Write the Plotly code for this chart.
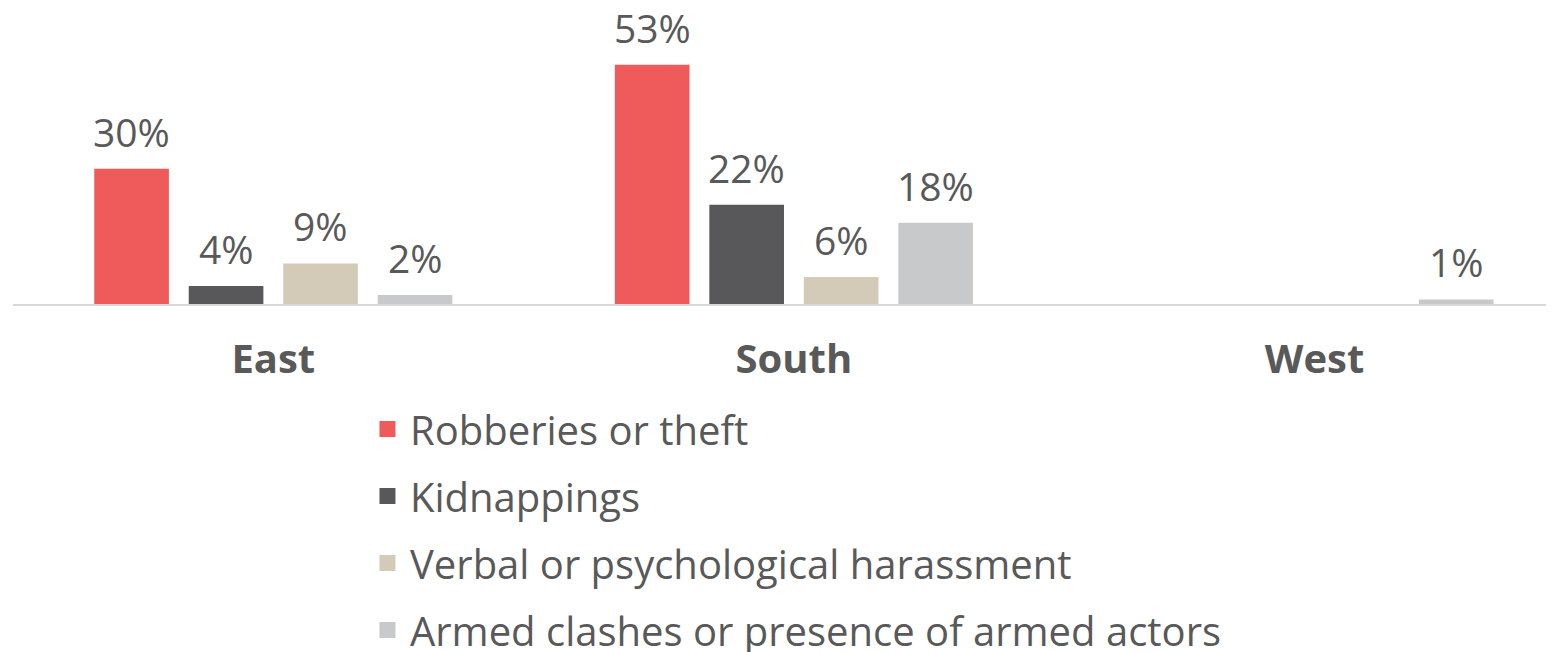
import plotly.graph_objects as go

regions = ["East", "South", "West"]
robberies = [30, 53, None]
kidnappings = [4, 22, None]
harassment = [9, 6, None]
armed = [2, 18, 1]

series = [
    ("Robberies or theft", robberies, "#EF5A5A"),
    ("Kidnappings", kidnappings, "#58585A"),
    ("Verbal or psychological harassment", harassment, "#D3CBB8"),
    ("Armed clashes or presence of armed actors", armed, "#C8C9CB"),
]

W, H = 1546, 644
ML = 5
x_range = [-0.5, 2.46]
bargap = 0.274
cat_px = (W - ML) / (x_range[1] - x_range[0])
slot_px = cat_px * (1 - bargap) / len(series)

fig = go.Figure()
annotations = []
for i, (name, vals, color) in enumerate(series):
    fig.add_trace(go.Bar(
        x=regions,
        y=vals,
        name=name,
        showlegend=False,
        marker=dict(color=color, line=dict(width=0)),
        hoverinfo="x+y+name",
    ))
    # legend entry with square swatch
    fig.add_trace(go.Scatter(
        x=[None], y=[None],
        mode="markers",
        name=name,
        legendgroup=name,
        marker=dict(symbol="square", size=22, color=color),
    ))
    # data labels
    for region, v in zip(regions, vals):
        if v is None:
            continue
        annotations.append(dict(
            x=region, y=v, xref="x", yref="y",
            text=f"{v}%",
            showarrow=False,
            xshift=(i - (len(series) - 1) / 2) * slot_px,
            yanchor="bottom",
            yshift=9,
            font=dict(size=39, color="#595959"),
        ))

fig.update_layout(
    width=W,
    height=H,
    barmode="group",
    bargap=bargap,
    bargroupgap=0.21,
    plot_bgcolor="white",
    paper_bgcolor="white",
    font=dict(family="Open Sans, Noto Sans, sans-serif", color="#595959"),
    margin=dict(l=ML, r=0, t=0, b=348, autoexpand=False),
    showlegend=True,
    annotations=annotations,
    legend=dict(
        orientation="v",
        xref="container", yref="container",
        x=0.2309, xanchor="left",
        y=0.3967, yanchor="top",
        font=dict(size=40, color="#595959"),
        tracegroupgap=12,
        itemwidth=35,
        bgcolor="rgba(0,0,0,0)",
    ),
    xaxis=dict(
        range=x_range,
        showline=True,
        linecolor="#D9D9D9",
        linewidth=2,
        ticks="",
        ticklabelstandoff=19,
        tickfont=dict(size=40, color="#595959", family="Open Sans, sans-serif", weight="bold"),
    ),
    yaxis=dict(
        range=[0, 65.6],
        visible=False,
        showgrid=False,
    ),
)

fig.write_html("out.html")
